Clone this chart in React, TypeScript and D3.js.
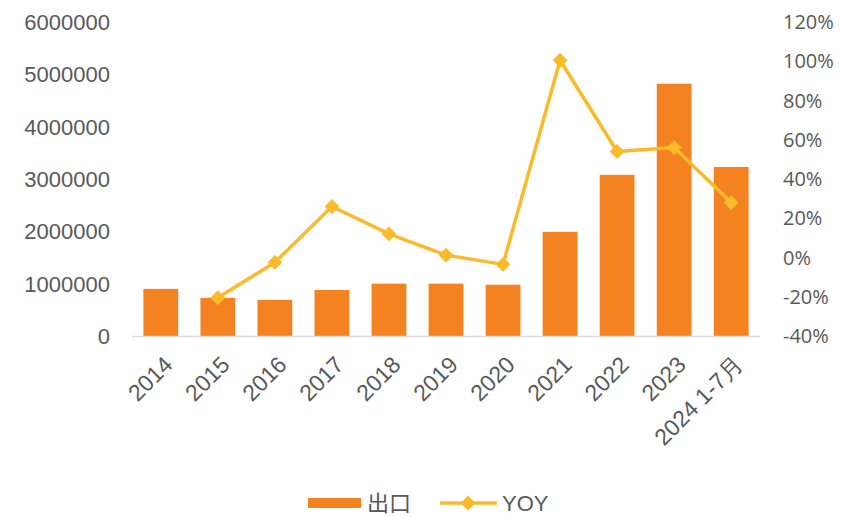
import React, { useEffect, useRef } from "react";
import * as d3 from "d3";

const categories = ["2014", "2015", "2016", "2017", "2018", "2019", "2020", "2021", "2022", "2023", "2024 1-7月"];
const exportValues = [900000, 730000, 690000, 880000, 1000000, 1000000, 980000, 1990000, 3080000, 4820000, 3230000];
const yoyValues = [null, -0.205, -0.025, 0.26, 0.12, 0.012, -0.035, 1.005, 0.54, 0.56, 0.28];
const leftTicks = [0, 1000000, 2000000, 3000000, 4000000, 5000000, 6000000];
const rightTicks = [-0.4, -0.2, 0, 0.2, 0.4, 0.6, 0.8, 1.0, 1.2];

const BAR = "#F58220";
const LINE = "#FBBA2A";
const TEXT = "#595959";

export default function App() {
  const ref = useRef<SVGSVGElement>(null);

  useEffect(() => {
    const svg = d3.select(ref.current);
    svg.selectAll("*").remove();

    const left = 132, right = 760, top = 22, bottom = 336;

    const x = d3.scaleBand().domain(categories).range([left, right]).paddingInner(0.39).paddingOuter(0.2);
    const yL = d3.scaleLinear().domain([0, 6000000]).range([bottom, top]);
    const yR = d3.scaleLinear().domain([-0.4, 1.2]).range([bottom, top]);

    // bars
    svg.selectAll(".bar")
      .data(exportValues)
      .enter().append("rect")
      .attr("x", (d, i) => x(categories[i]))
      .attr("y", d => yL(d))
      .attr("width", x.bandwidth())
      .attr("height", d => bottom - yL(d))
      .attr("fill", BAR);

    // baseline
    svg.append("line")
      .attr("x1", left).attr("x2", right)
      .attr("y1", bottom + 0.5).attr("y2", bottom + 0.5)
      .attr("stroke", "#d9d9d9").attr("stroke-width", 1.5);

    // left axis labels
    svg.append("g").selectAll("text")
      .data(leftTicks)
      .enter().append("text")
      .attr("x", 110)
      .attr("y", d => yL(d))
      .attr("dy", "0.36em")
      .attr("text-anchor", "end")
      .style("font-family", "Liberation Sans, Arial, sans-serif")
      .style("font-size", "22px")
      .attr("fill", TEXT)
      .text(d => d);

    // right axis labels
    svg.append("g").selectAll("text")
      .data(rightTicks)
      .enter().append("text")
      .attr("x", 783)
      .attr("y", d => yR(d))
      .attr("dy", "0.36em")
      .attr("text-anchor", "start")
      .style("font-family", "Open Sans, sans-serif")
      .style("font-size", "20px")
      .attr("fill", TEXT)
      .text(d => Math.round(d * 100) + "%");

    // x labels
    svg.append("g").selectAll("text")
      .data(categories)
      .enter().append("text")
      .attr("transform", d => `translate(${x(d)! + x.bandwidth() / 2 + 1},${bottom + 18}) rotate(-45)`)
      .attr("text-anchor", "end")
      .attr("dy", "0.75em")
      .style("font-family", "Liberation Sans, Arial, sans-serif")
      .style("font-size", "23px")
      .attr("fill", TEXT)
      .text(d => d);

    // yoy line
    const pts = yoyValues
      .map((v, i) => ({ v, c: categories[i] }))
      .filter(p => p.v !== null) as { v: number; c: string }[];
    const line = d3.line<{ v: number; c: string }>()
      .x(p => x(p.c)! + x.bandwidth() / 2)
      .y(p => yR(p.v));
    svg.append("path")
      .datum(pts)
      .attr("d", line)
      .attr("fill", "none")
      .attr("stroke", LINE)
      .attr("stroke-width", 3.5)
      .attr("stroke-linejoin", "round");

    const diamond = d3.symbol().type(d3.symbolDiamond2).size(140);
    svg.selectAll(".pt")
      .data(pts)
      .enter().append("path")
      .attr("d", diamond)
      .attr("transform", p => `translate(${x(p.c)! + x.bandwidth() / 2},${yR(p.v)})`)
      .attr("fill", LINE);

    // legend
    const lg = svg.append("g");
    lg.append("rect").attr("x", 308).attr("y", 498).attr("width", 53).attr("height", 10).attr("fill", BAR);
    lg.append("text").attr("x", 367).attr("y", 503).attr("dy", "0.36em")
      .style("font-family", "Noto Sans CJK SC, sans-serif").style("font-size", "22px")
      .attr("fill", TEXT).text("出口");
    lg.append("line").attr("x1", 440).attr("x2", 497).attr("y1", 503).attr("y2", 503)
      .attr("stroke", LINE).attr("stroke-width", 3.5);
    lg.append("path").attr("d", diamond).attr("transform", "translate(468,503)").attr("fill", LINE);
    lg.append("text").attr("x", 502).attr("y", 503).attr("dy", "0.36em")
      .style("font-family", "Liberation Sans, Arial, sans-serif").style("font-size", "22px")
      .attr("fill", TEXT).text("YOY");
  }, []);

  return (
    <svg ref={ref} width={843} height={517} style={{ position: "absolute", left: 0, top: 0, background: "#fff" }} />
  );
}
